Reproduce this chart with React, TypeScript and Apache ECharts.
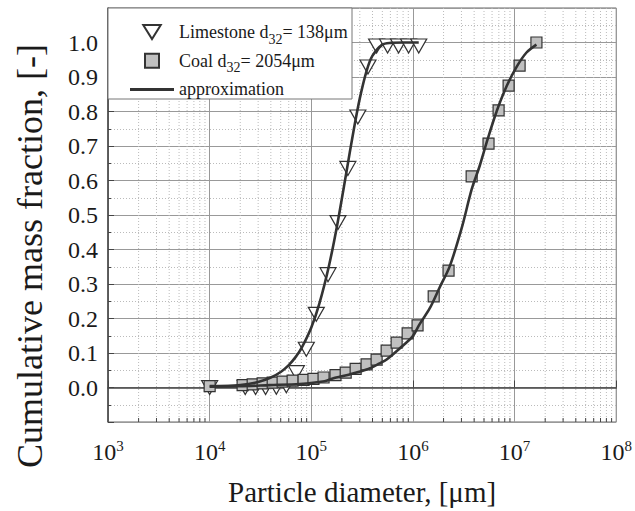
import React, { useEffect, useRef } from 'react';
import * as echarts from 'echarts';

// Limestone measured points (particle diameter in μm, cumulative mass fraction)
const limestoneD = [1e4, 2.24e4, 2.83e4, 3.55e4, 4.53e4, 5.68e4, 7.13e4, 8.93e4, 1.12e5, 1.46e5, 1.83e5, 2.29e5, 2.87e5, 3.61e5, 4.39e5, 5.63e5, 7.22e5, 9.06e5, 1.14e6];
const limestoneF = [0, 0, 0, 0, 0.001, 0.005, 0.043, 0.111, 0.212, 0.327, 0.478, 0.635, 0.784, 0.929, 0.99, 0.99, 0.99, 0.99, 0.99];

// Coal measured points
const coalD = [1e4, 2.11e4, 2.65e4, 3.32e4, 4.17e4, 5.22e4, 6.55e4, 8.4e4, 1.05e5, 1.32e5, 1.73e5, 2.18e5, 2.73e5, 3.5e5, 4.39e5, 5.51e5, 6.91e5, 8.87e5, 1.11e6, 1.6e6, 2.24e6, 3.78e6, 5.54e6, 6.96e6, 8.73e6, 1.12e7, 1.64e7];
const coalF = [0.004, 0.007, 0.009, 0.012, 0.014, 0.017, 0.02, 0.022, 0.025, 0.029, 0.036, 0.043, 0.054, 0.067, 0.081, 0.107, 0.13, 0.157, 0.18, 0.264, 0.339, 0.612, 0.707, 0.803, 0.875, 0.933, 1.0];

// Approximation curves
const limeFitD = [1e4, 2e4, 3e4, 4e4, 5e4, 6e4, 7e4, 8e4, 1e5, 1.2e5, 1.5e5, 1.8e5, 2.2e5, 2.6e5, 3e5, 3.5e5, 4e5, 5e5, 6e5, 8e5, 1.14e6];
const limeFitF = [0.002, 0.007, 0.016, 0.029, 0.045, 0.065, 0.088, 0.114, 0.174, 0.243, 0.356, 0.472, 0.619, 0.743, 0.838, 0.918, 0.962, 0.994, 0.999, 1.0, 1.0];

const coalFitD = [1e4, 1.97e4, 3.89e4, 7.68e4, 1.35e5, 1.62e5, 2.38e5, 3.5e5, 4.7e5, 5.51e5, 7.4e5, 9.93e5, 1.16e6, 1.46e6, 1.83e6, 2.3e6, 3.01e6, 3.78e6, 4.53e6, 5.42e6, 6.65e6, 8.34e6, 1.05e7, 1.31e7, 1.64e7];
const coalFitF = [0.004, 0.004, 0.007, 0.01, 0.018, 0.026, 0.038, 0.052, 0.07, 0.081, 0.113, 0.148, 0.183, 0.229, 0.29, 0.351, 0.461, 0.574, 0.642, 0.719, 0.8, 0.873, 0.93, 0.971, 0.994];

const legendLabels: Record<string, string> = {
  Limestone: 'Limestone d{sub|32}= 138μm',
  Coal: 'Coal d{sub|32}= 2054μm',
  approximation: 'approximation',
};

const xTitle = 'Particle diameter, [μm]';
const yTitle = 'Cumulative mass fraction, [-]';

const zip = (a: number[], b: number[]) => a.map((v, i) => [v, b[i]]);

export default function App() {
  const ref = useRef<HTMLDivElement>(null);
  useEffect(() => {
    const chart = echarts.init(ref.current!, null, { renderer: 'svg' });
    const serif = 'Liberation Serif';
    const ink = '#1a1a1a';
    const minorX: number[] = [];
    for (let e = 3; e < 8; e++) for (let k = 2; k <= 9; k++) minorX.push(k * Math.pow(10, e));

    chart.setOption({
      animation: false,
      textStyle: { fontFamily: serif },
      grid: { left: 108, right: 18, top: 8, bottom: 89, show: true, borderColor: '#666', borderWidth: 1 },
      xAxis: {
        type: 'log', logBase: 10, min: 1e3, max: 1e8,
        axisLine: { show: true, lineStyle: { color: '#444', width: 1.5 } },
        axisTick: { show: true, inside: true, length: 7, lineStyle: { color: '#444' } },
        axisLabel: {
          margin: 16,
          formatter: (v: number) => `{b|10}{sup|${Math.round(Math.log10(v))}}`,
          rich: {
            b: { fontSize: 24, fontFamily: serif, color: ink, lineHeight: 26, verticalAlign: 'bottom' },
            sup: { fontSize: 15, fontFamily: serif, color: ink, lineHeight: 14, verticalAlign: 'top' },
          },
        },
        splitLine: { show: true, lineStyle: { color: '#999', width: 1 } },
        name: xTitle, nameLocation: 'middle', nameGap: 55,
        nameTextStyle: { fontSize: 29, fontFamily: serif, color: ink },
      },
      yAxis: {
        type: 'value', min: -0.1, max: 1.1, interval: 0.1,
        axisLine: { show: true, lineStyle: { color: '#444', width: 1.5 } },
        axisTick: { show: true, inside: true, length: 6, lineStyle: { color: '#444' } },
        minorTick: { show: true, splitNumber: 2, length: 3, lineStyle: { color: '#444' } },
        minorSplitLine: { show: true, lineStyle: { color: '#bbb', type: [1, 2] } },
        splitLine: { show: true, lineStyle: { color: '#999', width: 1 } },
        axisLabel: {
          fontSize: 24, fontFamily: serif, color: ink, margin: 10,
          formatter: (v: number) => (v < -0.01 || v > 1.01) ? '' : (Math.abs(v) < 1e-9 ? '0.0' : v.toFixed(1)),
        },
        name: yTitle, nameLocation: 'middle', nameGap: 60,
        nameTextStyle: { fontSize: 36, fontFamily: serif, color: ink, padding: [0, 82, 0, 0] },
      },
      legend: {
        orient: 'vertical', left: 130, top: 18, padding: 0, itemGap: 0.7,
        itemWidth: 44, itemHeight: 14, z: 6, selectedMode: false, symbolKeepAspect: true,
        data: [
          { name: 'Limestone', icon: 'path://M0,0L20,0L10,16Z' },
          { name: 'Coal', icon: 'path://M0,0L12,0L12,12L0,12Z' },
          { name: 'approximation', icon: 'path://M0,0L44,0L44,3L0,3Z' },
        ],
        formatter: (n: string) => legendLabels[n],
        textStyle: {
          fontFamily: serif, fontSize: 18, color: ink, lineHeight: 28,
          rich: { sub: { fontFamily: serif, fontSize: 14, color: ink, lineHeight: 6, verticalAlign: 'bottom' } },
        },
      },
      graphic: [
        { type: 'rect', z: 5, shape: { x: 108, y: 8, width: 244, height: 91 }, style: { fill: '#fff', stroke: '#777', lineWidth: 1 } },
      ],
      series: [
        {
          type: 'custom', z: 1, silent: true,
          data: minorX.map((v) => [v, 0]),
          encode: { x: 0, y: 1 },
          renderItem: (params: any, api: any) => {
            const cs = params.coordSys;
            const x = api.coord([api.value(0), 0])[0];
            return {
              type: 'group',
              children: [
                { type: 'line', shape: { x1: x, y1: cs.y, x2: x, y2: cs.y + cs.height }, style: { stroke: '#bbb', lineWidth: 1, lineDash: [1, 2] } },
                { type: 'line', shape: { x1: x, y1: cs.y + cs.height, x2: x, y2: cs.y + cs.height - 4 }, style: { stroke: '#444', lineWidth: 1 } },
              ],
            };
          },
        },
        {
          name: 'Limestone', type: 'scatter', z: 2,
          symbol: 'triangle', symbolRotate: 180, symbolSize: [16, 14],
          itemStyle: { color: '#fff', borderColor: '#333', borderWidth: 1.2, opacity: 1 },
          data: zip(limestoneD, limestoneF),
        },
        {
          name: 'Coal', type: 'scatter', z: 2,
          symbol: 'rect', symbolSize: 11,
          itemStyle: { color: '#c0c0c0', borderColor: '#333', borderWidth: 1.2, opacity: 1 },
          data: zip(coalD, coalF),
        },
        {
          name: 'approximation', type: 'line', z: 3, smooth: 0.3,
          symbol: 'none', showSymbol: false,
          lineStyle: { color: '#333', width: 2.6 }, itemStyle: { color: '#333' },
          data: zip(limeFitD, limeFitF),
        },
        {
          name: 'approximation', type: 'line', z: 3, smooth: 0.3,
          symbol: 'none', showSymbol: false,
          lineStyle: { color: '#333', width: 2.6 }, itemStyle: { color: '#333' },
          data: zip(coalFitD, coalFitF),
        },
      ],
    });
    return () => chart.dispose();
  }, []);
  return <div ref={ref} style={{ position: 'fixed', left: 0, top: 0, width: 635, height: 511, background: '#fff' }} />;
}
